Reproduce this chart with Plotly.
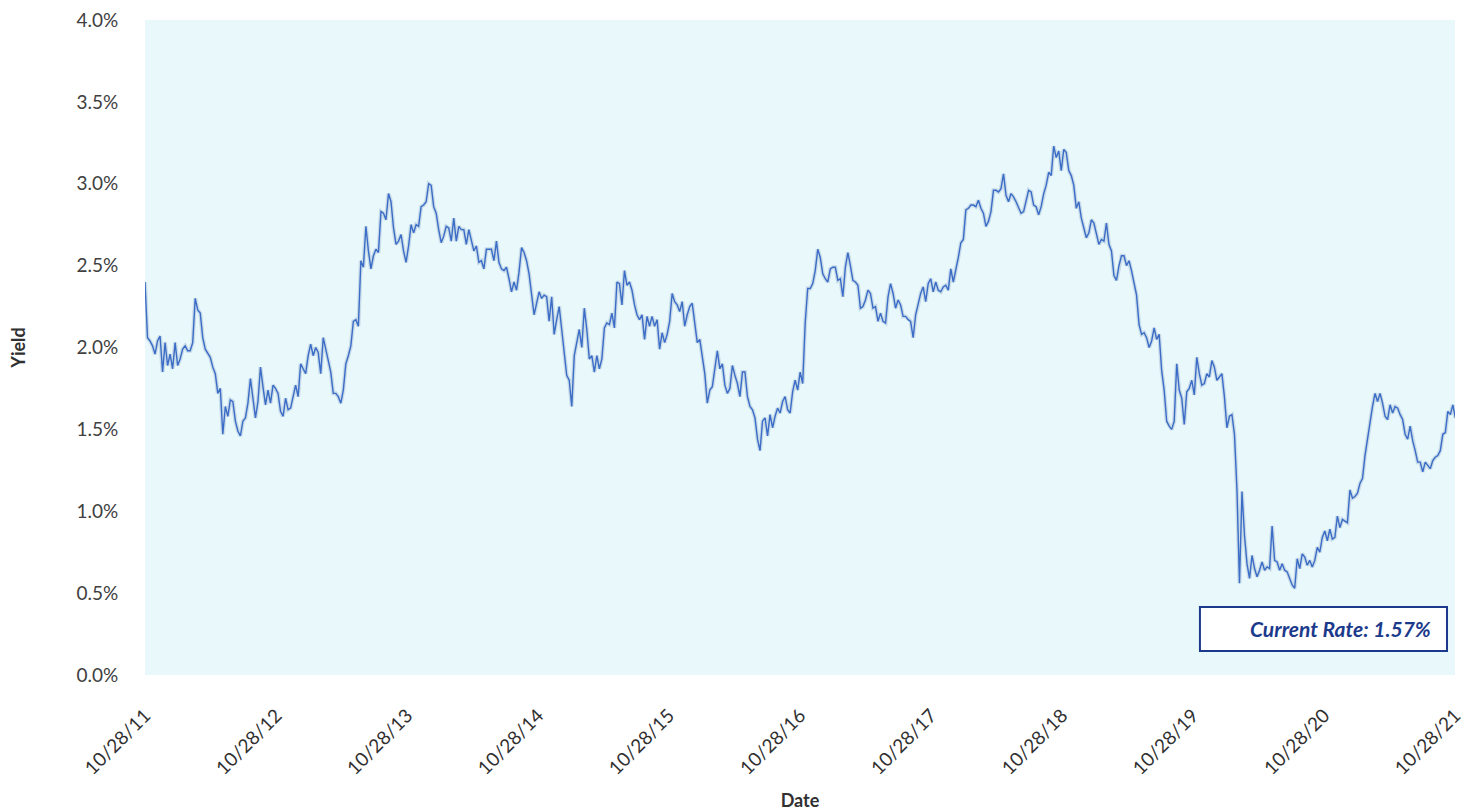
import pandas as pd
import plotly.graph_objects as go

# Weekly (Friday) 10-year Treasury yields, in percent, one list per year starting 10/28
yields_2011_12 = [
    2.40, 2.06, 2.04, 2.01, 1.96, 2.04, 2.07, 1.85, 2.03, 1.89,
    1.96, 1.87, 2.03, 1.89, 1.93, 1.99, 2.01, 1.98, 1.98, 2.03,
    2.30, 2.23, 2.21, 2.06, 1.99, 1.96, 1.94, 1.88, 1.84, 1.72,
    1.75, 1.47, 1.64, 1.58, 1.68, 1.67, 1.55, 1.49, 1.46, 1.55,
    1.57, 1.66, 1.81, 1.69, 1.57, 1.67, 1.88, 1.76, 1.65, 1.74,
    1.66, 1.77, 1.75,
]
yields_2012_13 = [
    1.72, 1.61, 1.58, 1.69, 1.62, 1.63, 1.70, 1.77, 1.70, 1.90,
    1.87, 1.84, 1.95, 2.02, 1.95, 2.00, 1.97, 1.84, 2.06, 1.99,
    1.93, 1.85, 1.72, 1.72, 1.70, 1.66, 1.74, 1.90, 1.95, 2.01,
    2.16, 2.17, 2.13, 2.53, 2.49, 2.74, 2.59, 2.48, 2.56, 2.60,
    2.58, 2.83, 2.82, 2.78, 2.94, 2.89, 2.73, 2.63, 2.65, 2.69,
    2.59, 2.52,
]
yields_2013_14 = [
    2.62, 2.75, 2.70, 2.75, 2.74, 2.86, 2.87, 2.89, 3.00, 2.99,
    2.86, 2.82, 2.72, 2.64, 2.68, 2.74, 2.73, 2.65, 2.79, 2.65,
    2.74, 2.72, 2.72, 2.63, 2.72, 2.66, 2.59, 2.62, 2.52, 2.53,
    2.48, 2.60, 2.60, 2.60, 2.53, 2.65, 2.52, 2.48, 2.47, 2.49,
    2.42, 2.34, 2.40, 2.35, 2.46, 2.61, 2.58, 2.53, 2.45, 2.31,
    2.20, 2.27,
]
yields_2014_15 = [
    2.34, 2.30, 2.32, 2.31, 2.16, 2.31, 2.08, 2.17, 2.25, 2.11,
    1.95, 1.83, 1.80, 1.64, 1.95, 2.02, 2.11, 2.00, 2.24, 2.11,
    1.93, 1.95, 1.85, 1.95, 1.87, 1.93, 2.12, 2.15, 2.14, 2.21,
    2.12, 2.40, 2.39, 2.26, 2.47, 2.38, 2.40, 2.35, 2.26, 2.20,
    2.17, 2.20, 2.05, 2.19, 2.13, 2.19, 2.13, 2.17, 1.99, 2.09,
    2.03, 2.08, 2.16,
]
yields_2015_16 = [
    2.33, 2.28, 2.26, 2.22, 2.28, 2.13, 2.20, 2.25, 2.27, 2.13,
    2.03, 2.05, 1.94, 1.84, 1.66, 1.74, 1.76, 1.88, 1.98, 1.87,
    1.90, 1.77, 1.72, 1.75, 1.89, 1.83, 1.78, 1.70, 1.85, 1.85,
    1.70, 1.64, 1.62, 1.57, 1.44, 1.37, 1.55, 1.57, 1.46, 1.59,
    1.51, 1.58, 1.63, 1.60, 1.67, 1.70, 1.62, 1.60, 1.73, 1.80,
    1.74, 1.85,
]
yields_2016_17 = [
    1.78, 2.15, 2.36, 2.36, 2.39, 2.47, 2.60, 2.55, 2.45, 2.42,
    2.40, 2.48, 2.49, 2.49, 2.41, 2.42, 2.31, 2.49, 2.58, 2.50,
    2.41, 2.40, 2.38, 2.24, 2.25, 2.29, 2.35, 2.33, 2.24, 2.25,
    2.16, 2.21, 2.16, 2.15, 2.31, 2.39, 2.33, 2.24, 2.29, 2.26,
    2.19, 2.19, 2.17, 2.16, 2.06, 2.20, 2.26, 2.33, 2.37, 2.28,
    2.39, 2.42,
]
yields_2017_18 = [
    2.34, 2.40, 2.35, 2.34, 2.37, 2.38, 2.35, 2.48, 2.40, 2.47,
    2.55, 2.64, 2.66, 2.84, 2.85, 2.87, 2.87, 2.86, 2.90, 2.85,
    2.82, 2.74, 2.77, 2.83, 2.96, 2.96, 2.95, 2.97, 3.06, 2.93,
    2.89, 2.94, 2.92, 2.89, 2.85, 2.82, 2.83, 2.89, 2.96, 2.95,
    2.87, 2.86, 2.81, 2.86, 2.94, 2.99, 3.07, 3.05, 3.23, 3.16,
    3.20, 3.08,
]
yields_2018_19 = [
    3.21, 3.19, 3.08, 3.05, 2.99, 2.85, 2.89, 2.79, 2.72, 2.67,
    2.70, 2.78, 2.76, 2.69, 2.63, 2.66, 2.65, 2.76, 2.63, 2.59,
    2.44, 2.41, 2.50, 2.56, 2.56, 2.50, 2.53, 2.47, 2.39, 2.32,
    2.14, 2.08, 2.09, 2.06, 2.00, 2.04, 2.12, 2.05, 2.08, 1.86,
    1.74, 1.55, 1.52, 1.50, 1.55, 1.90, 1.74, 1.69, 1.53, 1.73,
    1.75, 1.80,
]
yields_2019_20 = [
    1.71, 1.94, 1.84, 1.77, 1.78, 1.84, 1.82, 1.92, 1.88, 1.80,
    1.82, 1.84, 1.70, 1.51, 1.58, 1.59, 1.47, 1.13, 0.56, 1.12,
    0.85, 0.68, 0.59, 0.73, 0.65, 0.60, 0.64, 0.69, 0.64, 0.66,
    0.65, 0.91, 0.70, 0.69, 0.64, 0.68, 0.64, 0.63, 0.59, 0.55,
    0.53, 0.71, 0.65, 0.74, 0.72, 0.67, 0.70, 0.66, 0.70, 0.78,
    0.75, 0.84, 0.88,
]
yields_2020_21 = [
    0.82, 0.89, 0.83, 0.84, 0.97, 0.90, 0.95, 0.94, 0.93, 1.13,
    1.08, 1.09, 1.11, 1.17, 1.20, 1.34, 1.44, 1.57, 1.64, 1.72,
    1.67, 1.72, 1.66, 1.58, 1.56, 1.65, 1.60, 1.64, 1.63, 1.59,
    1.56, 1.47, 1.44, 1.52, 1.43, 1.37, 1.30, 1.30, 1.24, 1.30,
    1.28, 1.26, 1.31, 1.33, 1.34, 1.37, 1.47, 1.48, 1.61, 1.59,
    1.65, 1.57,
]

yields = (yields_2011_12 + yields_2012_13 + yields_2013_14 + yields_2014_15
          + yields_2015_16 + yields_2016_17 + yields_2017_18 + yields_2018_19
          + yields_2019_20 + yields_2020_21)

dates = pd.date_range("2011-10-28", "2021-10-29", freq="W-FRI")
assert len(dates) == len(yields), (len(dates), len(yields))

tick_dates = [f"{y}-10-28" for y in range(2011, 2022)]
tick_labels = [f"10/28/{str(y)[2:]}" for y in range(2011, 2022)]
y_ticks = [0.0, 0.5, 1.0, 1.5, 2.0, 2.5, 3.0, 3.5, 4.0]
y_labels = [f"{v:.1f}%" for v in y_ticks]

current_rate = yields[-1]

LINE = "#3b6cc6"
NAVY = "#1c3a8c"
FONT = "Lato, 'Open Sans', sans-serif"

fig = go.Figure()
# soft halo under the series
fig.add_trace(go.Scatter(
    x=dates, y=yields, mode="lines",
    line=dict(color="rgba(40,70,140,0.16)", width=4),
    hoverinfo="skip", showlegend=False,
))
fig.add_trace(go.Scatter(
    x=dates, y=yields, mode="lines",
    line=dict(color=LINE, width=1.4),
    name="10-Year Yield", showlegend=False,
))

fig.add_shape(
    type="rect", xref="paper", yref="paper",
    x0=0.8053, x1=0.9939, y0=0.0366, y1=0.104,
    fillcolor="white", line=dict(color=NAVY, width=2), layer="above",
)
fig.add_annotation(
    xref="paper", yref="paper", x=0.9830, y=0.0703,
    xanchor="right", yanchor="middle", showarrow=False,
    text=f"<b><i>Current Rate: {current_rate:.2f}%</i></b>",
    font=dict(family=FONT, size=21, color=NAVY),
)

fig.update_layout(
    width=1473, height=812,
    margin=dict(l=145, r=18, t=20, b=137),
    paper_bgcolor="white",
    plot_bgcolor="#e8f8fb",
    font=dict(family=FONT, color="#404040"),
)
fig.update_xaxes(
    range=["2011-10-28", "2021-10-28"],
    tickvals=tick_dates, ticktext=tick_labels,
    tickangle=-45, tickfont=dict(size=19, color="#303030"),
    showgrid=False, zeroline=False, showline=False,
    ticks="outside", ticklen=21, tickcolor="rgba(0,0,0,0)",
    automargin=False,
    title=dict(text="<b>Date</b>", font=dict(size=18, color="#303030"), standoff=16),
)
fig.update_yaxes(
    range=[0, 4.0],
    tickvals=y_ticks, ticktext=y_labels,
    tickfont=dict(size=19, color="#404040"),
    showgrid=False, zeroline=False, showline=False,
    ticks="outside", ticklen=22, tickcolor="rgba(0,0,0,0)",
    automargin=False,
    title=dict(text="<b>Yield</b>", font=dict(size=18, color="#303030"), standoff=46),
)

fig.write_html("out.html")
